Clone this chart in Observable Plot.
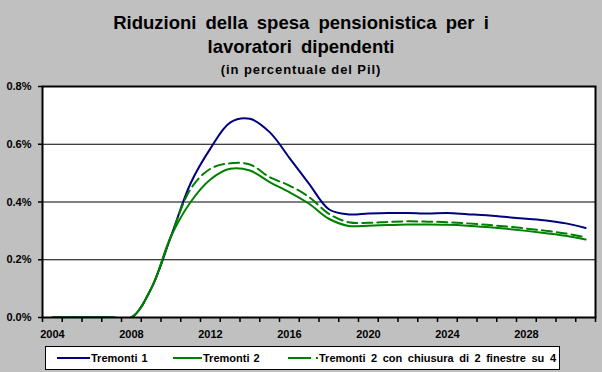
<!DOCTYPE html>
<html>
<head>
<meta charset="utf-8">
<script src="https://cdn.jsdelivr.net/npm/d3@7"></script>
<script src="https://cdn.jsdelivr.net/npm/@observablehq/plot@0.6"></script>
<style>
  html, body { margin: 0; padding: 0; background: #c0c0c0; }
  #wrap { position: relative; width: 602px; height: 372px; overflow: hidden; background: #c0c0c0; font-family: "Liberation Sans", Arial, sans-serif; font-weight: bold; color: #000; }
  .t { position: absolute; left: 0; width: 602px; text-align: center; white-space: nowrap; }
  #chart { position: absolute; left: 0; top: 0; }
  #legend { position: absolute; left: 45px; top: 346px; }
</style>
</head>
<body>
<div id="wrap">
  <div id="chart"></div>
  <div class="t" id="t1" style="top:14px;font-size:18.5px;line-height:18px;word-spacing:4px;">Riduzioni della spesa pensionistica per i</div>
  <div class="t" id="t2" style="top:38px;font-size:18.5px;line-height:18px;word-spacing:4px;">lavoratori dipendenti</div>
  <div class="t" id="t3" style="top:63px;font-size:13px;line-height:13px;letter-spacing:0.9px;">(in percentuale del Pil)</div>
  <div id="legend"></div>
</div>
<script>
const years = d3.range(2004, 2032);
const seriesNames = ["Tremonti 1", "Tremonti 2", "Tremonti 2 con chiusura di 2 finestre su 4"];
const tremonti1 = [0,0,0,0,0,0.10,0.28,0.465,0.585,0.675,0.688,0.642,0.553,0.463,0.375,0.357,0.36,0.362,0.362,0.36,0.362,0.358,0.354,0.348,0.342,0.336,0.326,0.31];
const tremonti2 = [0,0,0,0,0,0.10,0.28,0.40,0.478,0.515,0.509,0.469,0.434,0.394,0.342,0.317,0.318,0.32,0.322,0.322,0.321,0.318,0.313,0.307,0.30,0.292,0.283,0.27];
const tremonti2c = [0,0,0,0,0,0.10,0.28,0.445,0.515,0.534,0.53,0.486,0.457,0.417,0.359,0.33,0.328,0.331,0.333,0.332,0.33,0.326,0.321,0.315,0.308,0.30,0.291,0.278];
const yTicks = [0, 0.2, 0.4, 0.6, 0.8];
const xLabels = [2004, 2008, 2012, 2016, 2020, 2024, 2028];

const colors = ["#000080", "#008000", "#008000"];
const dashes = [null, null, "10,5"];
const values = [tremonti1, tremonti2, tremonti2c];

const rows = (arr) => years.map((yr, i) => ({year: yr, v: arr[i]}));
const boundaries = d3.range(2003.5, 2032, 1);

const chart = Plot.plot({
  width: 602,
  height: 372,
  marginTop: 86,
  marginBottom: 55,
  marginLeft: 42,
  marginRight: 7,
  style: {background: "transparent", fontFamily: "'Liberation Sans', Arial, sans-serif", fontSize: "11px", fontWeight: "bold", color: "#000"},
  x: {domain: [2003.5, 2031.5]},
  y: {domain: [0, 0.8]},
  marks: [
    Plot.frame({fill: "white", stroke: null}),
    Plot.gridY([0.2, 0.4, 0.6], {stroke: "black", strokeOpacity: 1, strokeWidth: 1}),
    ...values.map((arr, k) => Plot.line(rows(arr), {
      x: "year", y: "v", stroke: colors[k], strokeWidth: 2,
      strokeDasharray: dashes[k], curve: "catmull-rom", clip: true
    })),
    Plot.frame({stroke: "black", strokeWidth: 2}),
    Plot.axisY(yTicks, {tickSize: 4, tickPadding: 7, strokeWidth: 1.5, tickFormat: d => d.toFixed(1) + "%", label: null, fill: "black"}),
    Plot.axisX(boundaries, {tickSize: 5, strokeWidth: 1.5, tickFormat: () => "", label: null}),
    Plot.axisX(xLabels, {tickSize: 0, tickPadding: 13, tickFormat: d => String(d), label: null, fill: "black"})
  ]
});
document.getElementById("chart").appendChild(chart);

// Legend
const lw = 515, lh = 24;
const lsvg = d3.select("#legend").append("svg")
  .attr("width", lw).attr("height", lh)
  .style("display", "block");
lsvg.append("rect").attr("x", 0.5).attr("y", 0.5).attr("width", lw - 1).attr("height", lh - 1)
  .attr("fill", "white").attr("stroke", "black").attr("stroke-width", 1);
const items = [
  {x1: 12, x2: 45, tx: 46},
  {x1: 128, x2: 157, tx: 158},
  {x1: 243, x2: 273, tx: 274}
];
items.forEach((it, k) => {
  lsvg.append("line").attr("x1", it.x1).attr("x2", it.x2).attr("y1", 12).attr("y2", 12)
    .attr("stroke", colors[k]).attr("stroke-width", 2)
    .attr("stroke-dasharray", k === 2 ? "23,5" : null);
  lsvg.append("text").attr("x", it.tx).attr("y", 16)
    .attr("font-family", "'Liberation Sans', Arial, sans-serif").attr("font-size", 11).attr("font-weight", "bold")
    .attr("word-spacing", k === 2 ? 2.5 : 1)
    .attr("fill", "black").text(seriesNames[k]);
});
</script>
</body>
</html>
